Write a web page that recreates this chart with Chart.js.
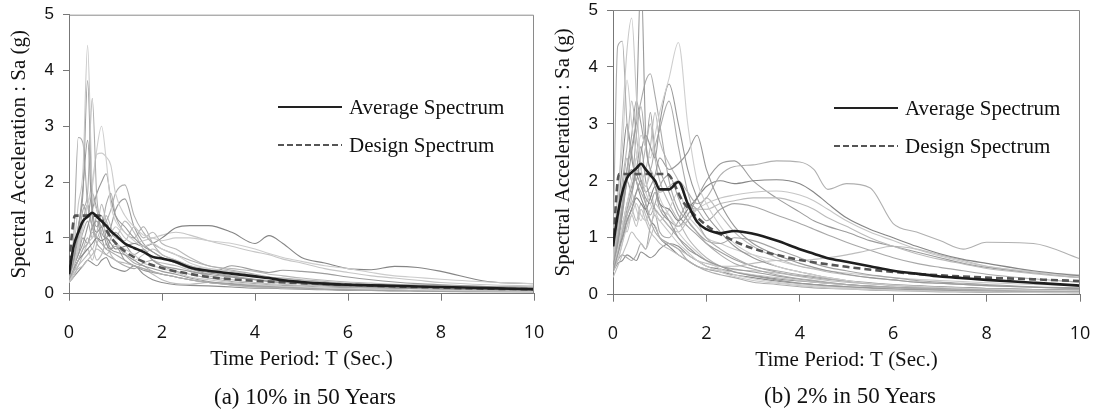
<!DOCTYPE html>
<html><head><meta charset="utf-8">
<script src="https://cdn.jsdelivr.net/npm/chart.js@4.4.0/dist/chart.umd.min.js"></script>
<style>
body{margin:0;background:#fff;width:1093px;height:413px;overflow:hidden;position:relative;}
.pane{position:absolute;top:0;}
canvas{display:block}
.cap{position:absolute;font-family:"Liberation Serif",serif;font-size:23px;color:#111;white-space:nowrap;transform:translate(-50%,-50%);}
.leg{position:absolute;font-family:"Liberation Serif",serif;font-size:21px;color:#111;}
.leg .row{display:flex;align-items:center;height:38px;white-space:nowrap;}
.leg .ln{width:64px;margin-right:7px;height:2.5px;}
.leg .solid{background:#222;}
.leg .dash{background:repeating-linear-gradient(to right,#555 0 6px,transparent 6px 9px);}
</style>
</head><body>
<div class="pane" style="left:0"><canvas id="ca" width="544" height="413"></canvas></div>
<div class="pane" style="left:544px"><canvas id="cb" width="549" height="413"></canvas></div>
<div class="leg" style="left:278px;top:88px"><div class="row"><div class="ln solid"></div>Average Spectrum</div><div class="row"><div class="ln dash"></div>Design Spectrum</div></div>
<div class="leg" style="left:834px;top:89px"><div class="row"><div class="ln solid"></div>Average Spectrum</div><div class="row"><div class="ln dash"></div>Design Spectrum</div></div>
<div class="cap" style="left:305px;top:397px">(a) 10% in 50 Years</div>
<div class="cap" style="left:850px;top:396px">(b) 2% in 50 Years</div>
<script>
// Periods (sec) shared by the individual record spectra
const T = [0,0.1,0.2,0.3,0.4,0.5,0.6,0.7,0.8,0.9,1.0, 1.2,1.4,1.6,1.8,2.0, 2.3,2.6,3.0,3.5, 4.0,4.3,4.6,5.0, 5.5,6.0,6.5,7.0,7.5, 8.0,9.0,10.0];

// ---- (a) 10% in 50 years : record spectra (g)
const a01=[0.4,0.8,1.6,2.2,4.45,1.9,1.5,1.3,1.1,1.0,0.9, 0.8,0.7,0.55,0.5,0.45, 0.38,0.3,0.25,0.2, 0.16,0.15,0.13,0.12, 0.1,0.09,0.08,0.07,0.065, 0.06,0.05,0.04];
const a02=[0.3,0.6,1.2,1.8,3.82,1.6,1.2,1.4,1.0,0.8,0.75, 0.7,0.6,0.5,0.45,0.4, 0.35,0.28,0.22,0.18, 0.15,0.14,0.12,0.11, 0.09,0.08,0.07,0.06,0.055, 0.05,0.05,0.04];
const a03=[0.35,0.7,1.0,1.5,1.8,3.5,1.7,1.3,1.2,1.0,0.9, 0.7,0.55,0.5,0.4,0.35, 0.3,0.25,0.2,0.16, 0.13,0.12,0.11,0.1, 0.09,0.08,0.07,0.06,0.055, 0.05,0.04,0.04];
const a04=[0.3,0.5,0.9,1.2,1.6,1.9,2.6,3.0,2.4,1.6,1.3, 1.1,0.95,0.85,0.9,0.8, 0.7,0.55,0.45,0.38, 0.3,0.27,0.25,0.22, 0.19,0.17,0.15,0.14,0.13, 0.12,0.1,0.09];
const a05=[0.3,1.0,2.8,2.7,1.6,1.2,1.0,0.9,0.8,0.75,0.7, 0.6,0.5,0.45,0.4,0.35, 0.3,0.25,0.2,0.16, 0.13,0.12,0.11,0.1, 0.08,0.07,0.06,0.06,0.055, 0.05,0.04,0.03];
const a06=[0.25,0.5,1.1,1.9,2.75,1.4,1.1,1.2,0.9,0.8,0.85, 0.6,0.5,0.42,0.38,0.35, 0.3,0.25,0.2,0.17, 0.14,0.13,0.12,0.1, 0.09,0.08,0.07,0.06,0.055, 0.05,0.05,0.04];
const a07=[0.3,0.5,0.8,1.2,1.6,2.0,2.5,2.52,2.45,2.3,1.8, 1.4,1.2,1.05,1.0,0.95, 1.0,1.0,0.95,0.9, 0.8,0.72,0.65,0.58, 0.5,0.45,0.38,0.32,0.29, 0.26,0.21,0.18];
const a08=[0.3,0.5,0.7,0.9,1.2,1.5,1.8,2.0,2.15,1.7,1.4, 1.2,1.0,0.85,0.75,0.65, 0.55,0.45,0.38,0.3, 0.25,0.22,0.2,0.18, 0.15,0.13,0.12,0.1,0.09, 0.08,0.07,0.06];
const a09=[0.25,0.4,0.6,0.8,0.9,1.1,1.0,1.2,1.3,1.5,1.8, 1.95,1.4,1.1,0.9,0.8, 0.7,0.6,0.5,0.42, 0.35,0.3,0.28,0.25, 0.22,0.18,0.16,0.14,0.12, 0.11,0.09,0.08];
const a10=[0.3,0.45,0.6,0.7,0.8,0.9,1.0,0.95,1.0,0.9,0.8, 0.85,0.9,0.85,0.9,1.0, 1.18,1.22,1.22,1.1, 0.9,1.04,0.9,0.65, 0.55,0.45,0.43,0.49,0.47, 0.4,0.22,0.18];
const a11=[0.2,0.4,0.6,0.7,0.9,1.0,1.1,1.2,1.3,1.1,1.2, 1.0,0.9,0.95,1.0,1.05, 1.1,1.05,0.95,0.85, 0.75,0.7,0.62,0.55, 0.45,0.38,0.32,0.28,0.24, 0.2,0.16,0.14];
const a12=[0.2,0.3,0.5,0.6,0.7,0.8,0.6,0.7,0.9,0.7,0.6, 0.55,0.5,0.45,0.35,0.25, 0.18,0.17,0.2,0.15, 0.12,0.11,0.1,0.09, 0.08,0.07,0.06,0.05,0.045, 0.04,0.03,0.03];
const a13=[0.3,0.5,0.7,1.0,0.9,1.2,1.3,1.0,0.8,1.0,1.1, 0.9,0.7,0.8,0.6,0.5, 0.45,0.4,0.35,0.5, 0.42,0.38,0.42,0.4, 0.36,0.3,0.25,0.21,0.18, 0.16,0.13,0.11];
const a14=[0.25,0.4,0.5,0.7,0.8,0.6,0.9,1.1,1.4,1.2,1.0, 1.3,1.1,0.8,0.6,0.55, 0.5,0.42,0.32,0.25, 0.2,0.18,0.17,0.15, 0.14,0.13,0.12,0.11,0.105, 0.1,0.09,0.08];
const a15=[0.35,0.5,0.9,1.3,1.6,1.2,0.9,0.8,0.7,0.65,0.6, 0.5,0.45,0.55,0.6,0.5, 0.4,0.35,0.28,0.22, 0.18,0.16,0.15,0.14, 0.12,0.11,0.1,0.1,0.095, 0.09,0.08,0.07];
const a16=[0.2,0.35,0.45,0.5,0.6,0.7,0.8,0.75,0.7,0.8,0.9, 0.75,0.6,0.7,0.8,0.7, 0.6,0.5,0.45,0.4, 0.33,0.3,0.27,0.24, 0.21,0.19,0.17,0.16,0.15, 0.14,0.13,0.12];
const a17=[0.3,0.6,1.2,1.6,1.4,1.8,1.5,1.1,1.0,1.2,1.5, 1.7,1.2,0.9,0.75,0.65, 0.55,0.45,0.35,0.3, 0.25,0.22,0.2,0.18, 0.15,0.13,0.12,0.11,0.1, 0.09,0.08,0.07];
const a18=[0.25,0.4,0.6,0.8,1.0,0.8,1.1,1.6,1.3,1.1,1.0, 0.95,1.2,1.0,1.1,0.9, 0.8,0.65,0.5,0.45, 0.4,0.35,0.32,0.28, 0.24,0.21,0.19,0.17,0.16, 0.15,0.13,0.12];
const a19=[0.2,0.3,0.4,0.5,0.6,0.55,0.5,0.6,0.65,0.5,0.45, 0.4,0.5,0.35,0.25,0.2, 0.16,0.15,0.14,0.12, 0.1,0.1,0.09,0.08, 0.07,0.06,0.06,0.05,0.05, 0.05,0.04,0.04];
const a20=[0.3,0.5,0.8,1.1,1.3,1.0,1.4,1.2,1.6,1.8,1.4, 1.1,1.0,1.2,0.9,0.7, 0.6,0.5,0.4,0.32, 0.26,0.24,0.22,0.2, 0.17,0.15,0.14,0.13,0.12, 0.11,0.1,0.09];
const avgA=[0.35,0.85,1.1,1.3,1.38,1.45,1.38,1.3,1.22,1.12,1.05, 0.9,0.82,0.75,0.66,0.63, 0.57,0.47,0.41,0.36, 0.31,0.28,0.24,0.21, 0.18,0.16,0.15,0.14,0.13, 0.12,0.1,0.08];
const designTA=[0,0.13,0.65,0.8,1.0,1.2,1.5,2.0,2.5,3.0,3.5,4.0,5.0,6.0,7.0,8.0,9.0,10.0];
const designA =[0.56,1.4,1.4,1.14,0.91,0.76,0.61,0.46,0.37,0.3,0.26,0.23,0.19,0.16,0.13,0.11,0.09,0.08];

// ---- (b) 2% in 50 years : record spectra (g)
const b01=[0.6,1.5,3.0,4.3,4.86,3.5,2.2,1.8,1.6,1.4,1.3, 1.1,0.9,0.75,0.6,0.5, 0.4,0.32,0.25,0.2, 0.16,0.14,0.12,0.1, 0.09,0.08,0.07,0.06,0.055, 0.05,0.04,0.04];
const b02=[0.5,0.9,1.5,2.0,2.5,3.2,5.6,2.8,2.2,1.9,1.6, 1.3,1.0,0.8,0.7,0.6, 0.5,0.4,0.33,0.26, 0.2,0.18,0.16,0.14, 0.12,0.1,0.09,0.08,0.07, 0.06,0.05,0.05];
const b03=[0.8,4.36,4.45,3.0,2.5,2.0,1.8,1.6,1.3,1.1,1.0, 0.9,0.8,0.6,0.5,0.42, 0.35,0.3,0.22,0.18, 0.14,0.12,0.11,0.1, 0.08,0.07,0.06,0.05,0.045, 0.04,0.04,0.03];
const b04=[0.5,0.8,1.2,1.6,2.0,2.4,2.8,2.6,2.4,2.8,3.2, 3.8,4.43,3.0,2.0,1.6, 1.2,0.9,0.7,0.5, 0.4,0.35,0.3,0.25, 0.2,0.17,0.15,0.13,0.115, 0.1,0.08,0.07];
const b05=[0.6,1.0,1.6,2.2,2.6,3.0,3.4,3.75,3.88,3.5,3.0, 2.0,1.5,1.3,1.1,0.9, 0.7,0.55,0.45,0.35, 0.28,0.25,0.22,0.18, 0.15,0.13,0.11,0.1,0.09, 0.08,0.06,0.05];
const b06=[0.5,0.9,1.4,2.0,2.2,2.0,2.5,2.8,2.6,2.4,3.0, 3.7,3.0,2.2,1.7,1.4, 1.1,0.85,0.65,0.5, 0.4,0.35,0.3,0.25, 0.21,0.18,0.16,0.14,0.125, 0.11,0.09,0.08];
const b07=[0.7,1.8,2.6,3.77,3.0,2.5,2.2,1.9,2.2,2.0,1.7, 1.4,1.1,0.9,0.75,0.6, 0.45,0.35,0.28,0.22, 0.18,0.16,0.14,0.12, 0.1,0.09,0.08,0.07,0.065, 0.06,0.05,0.04];
const b08=[0.4,0.7,1.0,1.3,1.5,1.8,2.0,1.8,1.9,2.1,2.4, 2.2,2.3,2.5,2.8,2.2, 1.6,1.2,0.9,0.7, 0.55,0.48,0.42,0.36, 0.3,0.26,0.22,0.2,0.18, 0.16,0.13,0.11];
const b09=[0.5,0.8,1.1,1.4,1.6,1.8,2.0,1.9,2.1,2.0,1.8, 1.9,2.0,1.8,1.6,1.7, 2.1,2.25,2.28,2.35, 2.33,2.2,1.85,1.95, 1.88,1.25,1.1,0.95,0.8, 0.92,0.9,0.63];
const b10=[0.5,0.8,1.0,1.3,1.5,1.7,1.6,1.5,1.7,1.9,1.6, 1.5,1.3,1.5,1.7,1.9, 2.0,1.95,2.0,2.02, 1.95,1.8,1.6,1.35, 1.15,1.0,0.85,0.72,0.62, 0.55,0.42,0.33];
const b11=[0.4,0.6,0.9,1.2,1.4,1.6,1.4,1.3,1.5,1.6,1.5, 1.4,1.2,1.3,1.5,1.6, 1.7,1.75,1.8,1.82, 1.75,1.65,1.5,1.3, 1.1,0.95,0.8,0.68,0.58, 0.5,0.4,0.32];
const b12=[0.4,0.7,1.0,1.2,1.5,1.3,1.6,1.4,1.2,1.5,1.4, 1.2,1.1,1.3,1.5,1.5, 1.6,1.65,1.7,1.7, 1.6,1.5,1.35,1.2, 1.0,0.85,0.72,0.62,0.54, 0.46,0.37,0.3];
const b13=[0.4,0.8,1.2,1.6,1.9,2.1,1.9,1.7,1.6,1.8,1.5, 1.3,1.2,1.4,1.7,2.0, 2.3,2.35,2.0,1.7, 1.45,1.3,1.2,1.1, 0.95,0.85,0.75,0.65,0.55, 0.48,0.38,0.3];
const b14=[0.3,0.5,0.7,0.9,1.1,1.0,0.9,0.8,1.0,1.2,1.0, 0.9,0.8,0.7,0.6,0.55, 0.5,0.5,0.55,0.6, 0.6,0.62,0.65,0.7, 0.78,0.85,0.8,0.7,0.6, 0.5,0.4,0.35];
const b15=[0.4,0.6,0.7,0.65,0.6,0.7,0.9,0.8,1.2,1.4,1.1, 1.0,1.3,1.6,1.5,1.3, 1.5,1.6,1.55,1.4, 1.25,1.15,1.05,0.92, 0.78,0.65,0.55,0.48,0.42, 0.36,0.28,0.22];
const b16=[0.5,0.9,1.3,1.1,1.4,1.2,1.5,1.3,1.1,1.0,0.9, 0.8,0.7,0.6,0.5,0.45, 0.42,0.4,0.35,0.3, 0.25,0.22,0.2,0.17, 0.14,0.12,0.1,0.09,0.08, 0.07,0.06,0.05];
const b17=[0.4,1.0,1.6,2.0,1.8,2.2,2.6,2.0,1.7,1.5,1.4, 1.2,1.0,0.85,0.7,0.6, 0.5,0.45,0.4,0.33, 0.27,0.24,0.21,0.18, 0.15,0.13,0.11,0.1,0.09, 0.08,0.07,0.06];
const b18=[0.5,1.2,2.0,2.6,3.4,2.8,2.2,2.6,3.0,2.4,2.0, 1.6,1.3,1.0,0.8,0.65, 0.5,0.44,0.42,0.38, 0.32,0.28,0.25,0.22, 0.19,0.16,0.14,0.12,0.11, 0.1,0.08,0.07];
const b19=[0.4,0.55,0.6,0.7,0.65,0.6,0.75,0.7,0.65,0.7,0.8, 0.9,0.85,0.7,0.6,0.5, 0.45,0.4,0.34,0.28, 0.24,0.22,0.2,0.18, 0.15,0.13,0.12,0.11,0.1, 0.09,0.08,0.07];
const b20=[0.6,1.2,1.8,2.4,2.0,2.8,3.3,2.6,2.2,2.6,2.9, 3.4,2.6,1.8,1.3,1.0, 0.8,0.65,0.5,0.42, 0.35,0.32,0.28,0.24, 0.2,0.17,0.15,0.13,0.12, 0.11,0.09,0.08];
const b21=[0.5,0.8,1.1,1.5,1.8,2.2,2.0,1.6,1.4,1.6,1.9, 2.1,1.7,1.3,1.1,0.95, 0.9,1.0,0.95,0.8, 0.65,0.55,0.48,0.42, 0.35,0.3,0.25,0.22,0.2, 0.18,0.14,0.12];
const b22=[0.45,0.7,1.1,1.4,1.7,2.4,2.0,2.2,2.6,3.2,2.7, 2.3,2.0,1.6,1.5,1.7, 1.4,1.1,0.85,0.65, 0.5,0.45,0.4,0.35, 0.3,0.26,0.22,0.2,0.18, 0.16,0.13,0.11];
const b23=[0.8,1.4,2.3,3.0,2.4,2.0,1.7,1.5,1.3,1.2,1.0, 0.85,0.7,0.6,0.5,0.45, 0.4,0.35,0.3,0.24, 0.2,0.18,0.16,0.14, 0.12,0.1,0.09,0.08,0.07, 0.06,0.05,0.05];
const b24=[0.5,0.6,0.9,1.4,1.8,1.5,1.3,1.6,1.8,1.5,1.3, 1.5,1.8,1.4,1.2,1.0, 0.9,0.8,0.7,0.6, 0.5,0.46,0.42,0.38, 0.34,0.3,0.27,0.25,0.23, 0.21,0.18,0.16];
const b25=[0.4,0.9,1.5,2.2,2.8,3.4,3.0,2.6,3.2,2.5,2.2, 1.8,1.4,1.2,1.05,0.9, 0.75,0.62,0.5,0.4, 0.33,0.3,0.27,0.24, 0.2,0.17,0.15,0.14,0.12, 0.11,0.09,0.08];
const avgB=[0.85,1.4,1.8,2.05,2.15,2.22,2.3,2.2,2.1,2.0,1.85, 1.85,1.98,1.6,1.28,1.15, 1.08,1.12,1.07,0.95, 0.8,0.72,0.64,0.58, 0.5,0.42,0.37,0.32,0.29, 0.26,0.21,0.16];
const designTB=[0,0.13,1.15,1.5,2.0,2.5,3.0,3.5,4.0,5.0,6.0,7.0,8.0,9.0,10.0];
const designB =[0.85,2.12,2.12,1.63,1.22,0.98,0.81,0.7,0.61,0.49,0.4,0.34,0.3,0.27,0.24];

const xTicks=[0,2,4,6,8,10];
const yTicks=[0,1,2,3,4,5];

const recordsA=[a01,a02,a03,a04,a05,a06,a07,a08,a09,a10,a11,a12,a13,a14,a15,a16,a17,a18,a19,a20];
const recordsB=[b01,b02,b03,b04,b05,b06,b07,b08,b09,b10,b11,b12,b13,b14,b15,b16,b17,b18,b19,b20,b21,b22,b23,b24,b25];
const shades=['#c8c8c8','#9a9a9a','#adadad','#cfcfcf','#aaaaaa','#979797','#cccccc','#999999','#b0b0b0','#858585','#c6c6c6','#bbbbbb','#9c9c9c','#bdbdbd','#a8a8a8','#bfbfbf','#9e9e9e','#b8b8b8','#8e8e8e','#ababab','#a4a4a4','#bcbcbc','#8a8a8a','#cacaca','#a0a0a0'];

const pts=(xs,ys)=>xs.map((x,i)=>({x:x,y:ys[i]}));

const framePlugin={id:'frame',afterDraw(c){const a=c.chartArea,ctx=c.ctx;ctx.save();ctx.strokeStyle='#8a8a8a';ctx.lineWidth=1;ctx.beginPath();ctx.moveTo(a.left,a.top+0.5);ctx.lineTo(a.right-0.5,a.top+0.5);ctx.lineTo(a.right-0.5,a.bottom);ctx.stroke();ctx.restore();}};

function build(id,recs,avg,dT,dS,pad){
  const ds=[];
  ds.push({data:pts(T,avg),borderColor:'#1e1e1e',borderWidth:2.6,order:0,cubicInterpolationMode:'monotone'});
  ds.push({data:pts(dT,dS),borderColor:'#555555',borderWidth:2.6,borderDash:[7,4],order:1,cubicInterpolationMode:'monotone'});
  recs.forEach((r,i)=>ds.push({data:pts(T,r),borderColor:shades[i%shades.length],borderWidth:1.1,order:2,cubicInterpolationMode:'monotone'}));
  return new Chart(document.getElementById(id),{
    type:'line',
    data:{datasets:ds},
    plugins:[framePlugin],
    options:{
      responsive:false,animation:false,
      layout:{padding:pad},
      elements:{point:{radius:0}},
      plugins:{legend:{display:false},tooltip:{enabled:false}},
      scales:{
        x:{type:'linear',min:0,max:10,
          afterBuildTicks:s=>{s.ticks=xTicks.map(v=>({value:v}));},
          afterFit:s=>{s.height=78;s.paddingLeft=0;s.paddingRight=0;},
          ticks:{color:'#111',padding:21,font:{family:'Open Sans',size:18}},
          grid:{drawOnChartArea:false,tickLength:7,color:'#777'},
          border:{color:'#777'},
          title:{display:true,text:'Time Period: T (Sec.)',color:'#111',padding:{top:0,bottom:0},font:{family:'Liberation Serif',size:21}}},
        y:{type:'linear',min:0,max:5,
          afterBuildTicks:s=>{s.ticks=yTicks.map(v=>({value:v}));},
          afterFit:s=>{s.width=69;s.paddingTop=0;s.paddingBottom=0;},
          ticks:{color:'#111',padding:9,font:{family:'Liberation Sans',size:17}},
          grid:{drawOnChartArea:false,tickLength:6,color:'#777'},
          border:{color:'#777'},
          title:{display:true,text:'Spectral Acceleration : Sa (g)',color:'#111',padding:{top:7,bottom:0},font:{family:'Liberation Serif',size:21}}}
      }
    }
  });
}
build('ca',recordsA,avgA,designTA,designA,{left:0,right:10,top:14.7,bottom:41.3});
build('cb',recordsB,avgB,designTB,designB,{left:0,right:13,top:10,bottom:40.3});
</script>
</body></html>
